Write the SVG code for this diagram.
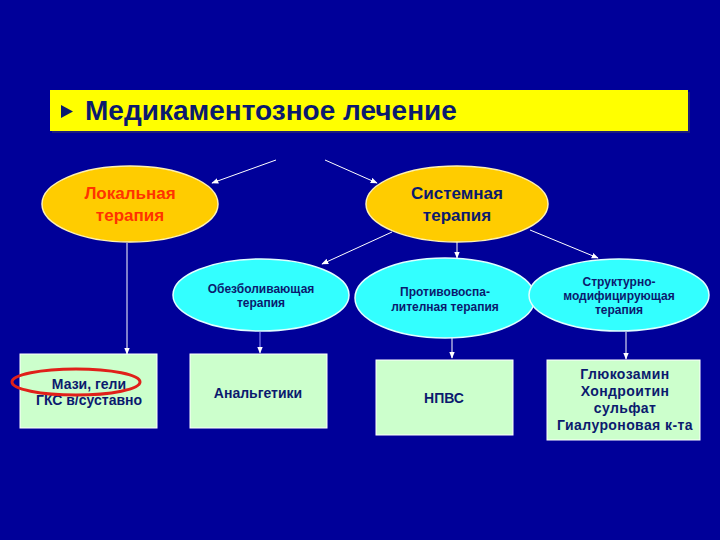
<svg xmlns="http://www.w3.org/2000/svg" width="720" height="540" viewBox="0 0 720 540">
<defs>
<style>
text{font-family:"Liberation Sans",Arial,sans-serif;font-weight:bold;text-anchor:middle}
.big{font-size:17px}
.sm{font-size:12px;fill:#0B1A6E}
.bx{font-size:14px;fill:#0B1A6E}
.ell-y{fill:#FFCC00;stroke:#FFF2B0;stroke-width:1.5}
.ell-c{fill:#33FFFF;stroke:#E0FFFF;stroke-width:1.5}
.box{fill:#CCFFCC;stroke:#FFFFFF;stroke-width:1}
.con line{stroke:#FFFFFF;stroke-width:1;marker-end:url(#ah)}
.con line.b{stroke:#9999FF}
</style>
<marker id="ah" viewBox="0 0 10 10" refX="9" refY="5" markerWidth="7" markerHeight="7" orient="auto">
<path d="M0,1 L10,5 L0,9 z" fill="#FFFFFF"/>
</marker>
</defs>
<rect x="0" y="0" width="720" height="540" fill="#000099"/>
<g id="title">
<rect x="52" y="92" width="638" height="41" fill="#333366" opacity="0.6"/>
<rect x="50" y="90" width="638" height="41" fill="#FFFF00"/>
<path d="M61,105 L73,111.5 L61,118 z" fill="#0B1A6E"/>
<text x="85" y="120" style="font-size:28px;fill:#0B1A6E;text-anchor:start">Медикаментозное лечение</text>
</g>
<g class="con" id="connectors">
<line x1="276" y1="160" x2="212" y2="183"/>
<line x1="325" y1="160" x2="377" y2="183"/>
<line x1="127" y1="243" x2="127" y2="354"/>
<line x1="392" y1="232" x2="322" y2="264"/>
<line x1="457" y1="241" x2="457" y2="258"/>
<line x1="530" y1="230" x2="598" y2="258"/>
<line class="b" x1="260" y1="332" x2="260" y2="353"/>
<line x1="452" y1="338" x2="452" y2="358"/>
<line x1="626" y1="332" x2="626" y2="359"/>
</g>
<g id="local">
<ellipse class="ell-y" cx="130" cy="204" rx="88" ry="38"/>
<text class="big" x="130" y="199" fill="#FF3300">Локальная</text>
<text class="big" x="130" y="221" fill="#FF3300">терапия</text>
</g>
<g id="systemic">
<ellipse class="ell-y" cx="457" cy="204" rx="91" ry="38"/>
<text class="big" x="457" y="199" fill="#0B1A6E">Системная</text>
<text class="big" x="457" y="221" fill="#0B1A6E">терапия</text>
</g>
<g id="analgesic">
<ellipse class="ell-c" cx="261" cy="295" rx="88" ry="36"/>
<text class="sm" x="261" y="293">Обезболивающая</text>
<text class="sm" x="261" y="307">терапия</text>
</g>
<g id="antiinflam">
<ellipse class="ell-c" cx="445" cy="298" rx="90" ry="40"/>
<text class="sm" x="445" y="296">Противовоспа-</text>
<text class="sm" x="445" y="311">лителная терапия</text>
</g>
<g id="structural">
<ellipse class="ell-c" cx="619" cy="295" rx="90" ry="36"/>
<text class="sm" x="619" y="286">Структурно-</text>
<text class="sm" x="619" y="300">модифицирующая</text>
<text class="sm" x="619" y="314">терапия</text>
</g>
<g id="box-local">
<rect class="box" x="20" y="354" width="137" height="74"/>
<text class="bx" x="89" y="389">Мази, гели</text>
<text class="bx" x="89" y="405">ГКС в/суставно</text>
<ellipse cx="76" cy="382" rx="64" ry="13" fill="none" stroke="#E0201A" stroke-width="3"/>
</g>
<g id="box-analg">
<rect class="box" x="190" y="354" width="137" height="74"/>
<text class="bx" x="258" y="398">Анальгетики</text>
</g>
<g id="box-nsaid">
<rect class="box" x="376" y="360" width="137" height="75"/>
<text class="bx" x="444" y="403">НПВС</text>
</g>
<g id="box-struct" style="letter-spacing:0.4px">
<rect class="box" x="547" y="360" width="153" height="80"/>
<text class="bx" x="625" y="379">Глюкозамин</text>
<text class="bx" x="625" y="396">Хондроитин</text>
<text class="bx" x="625" y="413">сульфат</text>
<text class="bx" x="625" y="430">Гиалуроновая к-та</text>
</g>
</svg>
